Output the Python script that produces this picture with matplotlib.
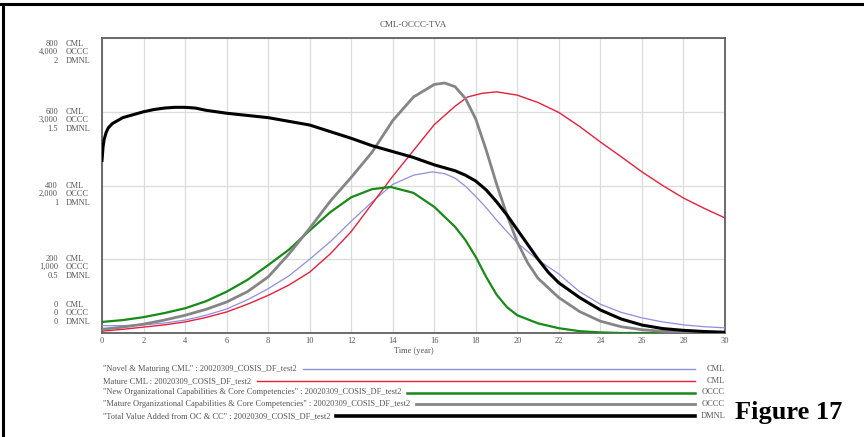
import matplotlib
matplotlib.use("Agg")
import matplotlib.pyplot as plt
from matplotlib.lines import Line2D

W, H = 864, 437
DPI = 100

# ---------------- data ----------------
# Novel & Maturing CML  (CML, 0-800)
t_purple = [0, 1, 2, 3, 4, 5, 6, 7, 8, 9, 10, 11, 12, 13, 14, 15, 15.9, 16.5, 17, 17.5, 18, 18.5, 19, 19.5, 20, 21, 22, 23, 24, 25, 26, 27, 28, 29, 30]
v_purple = [20, 20, 22, 27, 35, 48, 65, 90, 120, 155, 200, 248, 303, 355, 403, 428, 437, 432, 420, 398, 370, 340, 306, 275, 244, 198, 160, 112, 78, 56, 41, 30, 22, 17, 14]

# Mature CML  (CML, 0-800)
t_red = [0, 1, 2, 3, 4, 5, 6, 7, 8, 9, 10, 11, 12, 13, 14, 15, 16, 17, 17.6, 18.3, 19, 20, 21, 22, 23, 24, 25, 26, 27, 28, 29, 30]
v_red = [5, 10, 16, 22, 30, 42, 57, 78, 102, 130, 165, 215, 275, 350, 425, 495, 565, 615, 640, 650, 654, 645, 625, 598, 560, 518, 478, 437, 400, 366, 338, 312]

# New Organizational Capabilities & Core Competencies  (OCCC, 0-4000)
t_green = [0, 1, 2, 3, 4, 5, 6, 7, 8, 9, 10, 11, 12, 13, 13.9, 15, 16, 17, 17.5, 18, 18.5, 19, 19.5, 20, 21, 22, 23, 24, 25, 30]
v_green = [150, 175, 215, 270, 335, 430, 560, 720, 920, 1130, 1390, 1640, 1840, 1950, 1980, 1900, 1710, 1440, 1260, 1030, 760, 520, 350, 240, 130, 65, 25, 8, 0, 0]

# Mature Organizational Capabilities & Core Competencies  (OCCC, 0-4000)
t_gray = [0, 1, 2, 3, 4, 5, 6, 7, 8, 9, 10, 11, 12, 13, 14, 15, 16, 16.5, 17, 17.5, 18, 18.5, 19, 19.5, 20, 20.5, 21, 22, 23, 24, 25, 26, 27, 28, 30]
v_gray = [50, 80, 120, 175, 240, 320, 420, 560, 760, 1070, 1420, 1790, 2110, 2450, 2880, 3200, 3370, 3390, 3340, 3180, 2900, 2480, 2020, 1600, 1230, 950, 740, 480, 290, 160, 85, 45, 22, 12, 4]

# Total Value Added from OC & CC  (DMNL, 0-2)
t_black = [0, 0.05, 0.1, 0.2, 0.3, 0.5, 0.75, 1, 1.5, 2, 2.5, 3, 3.5, 4, 4.5, 5, 6, 7, 8, 9, 10, 11, 12, 13, 14, 15, 16, 17, 17.5, 18, 18.5, 19, 19.5, 20, 20.5, 21, 21.5, 22, 22.5, 23, 24, 25, 26, 27, 28, 29, 30]
v_black = [1.17, 1.26, 1.31, 1.36, 1.39, 1.42, 1.44, 1.46, 1.48, 1.50, 1.515, 1.525, 1.53, 1.53, 1.525, 1.51, 1.49, 1.475, 1.46, 1.435, 1.41, 1.365, 1.32, 1.27, 1.23, 1.19, 1.14, 1.10, 1.07, 1.03, 0.97, 0.89, 0.80, 0.70, 0.60, 0.50, 0.41, 0.34, 0.29, 0.24, 0.156, 0.095, 0.054, 0.03, 0.018, 0.01, 0.005]

cml_ticks = [0, 200, 400, 600, 800]
occc_ticks = ["0", "1,000", "2,000", "3,000", "4,000"]
dmnl_ticks = ["0", "0.5", "1", "1.5", "2"]
x_ticks = list(range(0, 31, 2))

title = "CML-OCCC-TVA"
x_label = "Time (year)"
legend_names = ['"Novel & Maturing CML" : 20020309_COSIS_DF_test2',
                'Mature CML : 20020309_COSIS_DF_test2',
                '"New Organizational Capabilities & Core Competencies" : 20020309_COSIS_DF_test2',
                '"Mature Organizational Capabilities & Core Competencies" : 20020309_COSIS_DF_test2',
                '"Total Value Added from OC & CC" : 20020309_COSIS_DF_test2']
legend_units = ["CML", "CML", "OCCC", "OCCC", "DMNL"]

# conversion of the other units onto the CML scale
OCCC_TO_CML = 800 / 4000
DMNL_TO_CML = 800 / 2

# ---------------- styling ----------------
plt.rcParams['font.family'] = ['Liberation Serif', 'DejaVu Serif']
FS = 6.0
TXT = "#555555"

c_purple = "#8f8fe0"
c_red = "#e8203c"
c_green = "#188a18"
c_gray = "#858585"
c_black = "#000000"

fig = plt.figure(figsize=(W / DPI, H / DPI), dpi=DPI)
ax = fig.add_axes([102 / W, 1 - 333 / H, (725 - 102) / W, (333 - 38) / H])

ax.plot(t_purple, v_purple, color=c_purple, lw=0.9, zorder=3)
ax.plot(t_red, v_red, color=c_red, lw=1.0, zorder=3)
ax.plot(t_green, [v * OCCC_TO_CML for v in v_green], color=c_green, lw=1.6, zorder=4)
ax.plot(t_gray, [v * OCCC_TO_CML for v in v_gray], color=c_gray, lw=2.0, zorder=4)
ax.plot(t_black, [v * DMNL_TO_CML for v in v_black], color=c_black, lw=2.2, zorder=5)

ax.set_xlim(0, 30)
ax.set_ylim(0, 800)
ax.set_xticks(x_ticks)
ax.set_xticklabels([str(x) for x in x_ticks], fontsize=FS, color=TXT)
ax.set_yticks(cml_ticks)
ax.set_yticklabels([])
ax.tick_params(axis='both', length=0, pad=3)
ax.grid(True, color="#dcdcdc", lw=0.9)
ax.set_axisbelow(True)
for s in ax.spines.values():
    s.set_color("#606060")
    s.set_linewidth(1.3)

ax.set_title(title, fontsize=FS + 0.5, color=TXT, pad=8)
ax.set_xlabel(x_label, fontsize=FS, color=TXT, labelpad=1)

# three-line y tick labels
def fy(px):
    return 1 - px / H

block_top = {800: 44, 600: 112, 400: 186, 200: 259, 0: 305}
for i, v in enumerate(cml_ticks):
    y0 = block_top[v]
    nums = [str(v), occc_ticks[i], dmnl_ticks[i]]
    units = ["CML", "OCCC", "DMNL"]
    for j in range(3):
        yy = y0 + j * 8.3
        fig.text(58 / W, fy(yy), nums[j], ha='right', va='center', fontsize=FS, color=TXT)
        fig.text(66 / W, fy(yy), units[j], ha='left', va='center', fontsize=FS, color=TXT)

# legend
leg_y = [369, 381, 392.5, 404, 416]
leg_colors = [c_purple, c_red, c_green, c_gray, c_black]
leg_lw = [1.0, 1.0, 1.8, 2.0, 2.6]
fig.canvas.draw()
renderer = fig.canvas.get_renderer()
for name, unit, y, c, lw in zip(legend_names, legend_units, leg_y, leg_colors, leg_lw):
    t = fig.text(103 / W, fy(y), name, ha='left', va='center', fontsize=FS, color=TXT)
    bb = t.get_window_extent(renderer)
    x_start = bb.x1 + 6
    fig.add_artist(Line2D([x_start / W, 695 / W], [fy(y), fy(y)], color=c, lw=lw))
    fig.text(725 / W, fy(y), unit, ha='right', va='center', fontsize=FS, color=TXT)

fig.text(735 / W, fy(413), "Figure 17", ha='left', va='center', fontsize=19,
         fontweight='bold', color='black', family=['Liberation Serif'])

# outer frame lines
fig.add_artist(Line2D([0, 1], [fy(4), fy(4)], color='black', lw=2.2))
fig.add_artist(Line2D([3 / W, 3 / W], [0, fy(4)], color='black', lw=2.2))

fig.savefig("out.png", dpi=DPI)
